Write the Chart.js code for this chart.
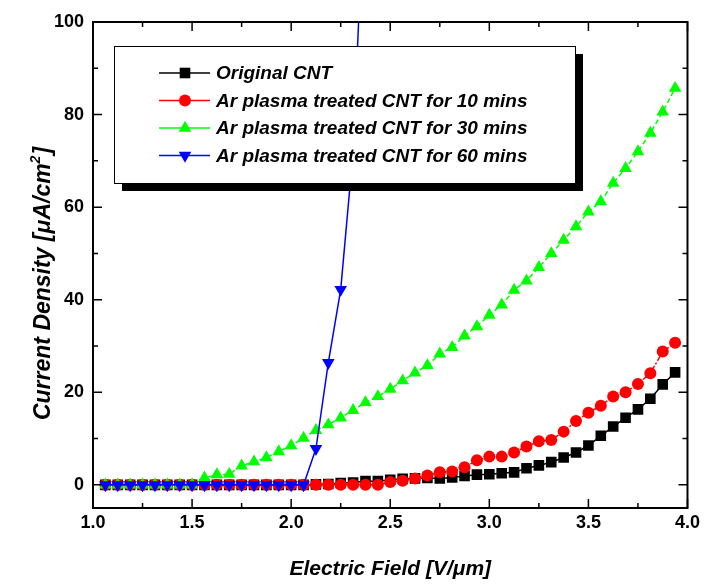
<!DOCTYPE html>
<html>
<head>
<meta charset="utf-8">
<title>Current density vs electric field</title>
<script src="https://cdn.jsdelivr.net/npm/chart.js@4.4.0/dist/chart.umd.min.js"></script>
<style>
  body { margin: 0; background: #fff; }
  #wrap { width: 704px; height: 585px; }
</style>
</head>
<body>
<div id="wrap"><canvas id="feChart" width="704" height="585"></canvas></div>
<script>
// electric field steps (V/um)
var fieldValues = [1.0625, 1.125, 1.1875, 1.25, 1.3125, 1.375, 1.4375, 1.5, 1.5625, 1.625,
    1.6875, 1.75, 1.8125, 1.875, 1.9375, 2.0, 2.0625, 2.125, 2.1875, 2.25,
    2.3125, 2.375, 2.4375, 2.5, 2.5625, 2.625, 2.6875, 2.75, 2.8125, 2.875,
    2.9375, 3.0, 3.0625, 3.125, 3.1875, 3.25, 3.3125, 3.375, 3.4375, 3.5,
    3.5625, 3.625, 3.6875, 3.75, 3.8125, 3.875, 3.9375];

// current density (uA/cm2) for each sample
var originalCnt = [0, 0, 0, 0, 0, 0, 0, 0, 0, 0,
    0, 0, 0, 0, 0, 0, 0, 0.1, 0.2, 0.4,
    0.5, 0.8, 0.8, 1.1, 1.3, 1.4, 1.5, 1.4, 1.6, 1.9,
    2.2, 2.3, 2.5, 2.7, 3.6, 4.2, 4.9, 5.9, 7.0, 8.5,
    10.6, 12.6, 14.5, 16.3, 18.6, 21.7, 24.3];
var treated10 = [0, 0, 0, 0, 0, 0, 0, 0, 0, 0,
    0, 0, 0, 0, 0, 0, 0, 0, 0, 0,
    0, 0, 0, 0.6, 0.9, 1.4, 2.0, 2.7, 2.9, 3.8,
    5.3, 6.1, 6.1, 7.0, 8.3, 9.4, 9.7, 11.5, 13.8, 15.6,
    17.1, 19.1, 20.0, 21.8, 24.1, 28.8, 30.7];
var treated30 = [0, 0, 0, 0, 0, 0, 0, 0, 1.5, 2.2,
    2.3, 4.1, 5.0, 5.9, 7.2, 8.5, 10.1, 11.8, 13.0, 14.5,
    16.1, 17.8, 19.1, 20.7, 22.5, 24.2, 25.8, 28.3, 29.7, 32.2,
    34.2, 36.7, 38.9, 42.1, 44.1, 47.0, 50.0, 52.9, 55.8, 59.0,
    61.2, 65.2, 68.4, 72.0, 76.0, 80.6, 85.7];
var treated60 = [0, 0, 0, 0, 0, 0, 0, 0, 0, 0,
    0, 0, 0, 0, 0, 0, 0, 7.8, 26.4, 42.2,
    72, 135];

var seriesNames = ['Original CNT', 'Ar plasma treated CNT for 10 mins',
    'Ar plasma treated CNT for 30 mins', 'Ar plasma treated CNT for 60 mins'];

var xTickValues = [1.0, 1.5, 2.0, 2.5, 3.0, 3.5, 4.0];
var xMinorTicks = [1.25, 1.75, 2.25, 2.75, 3.25, 3.75];
var yTickValues = [0, 20, 40, 60, 80, 100];
var yMinorTicks = [10, 30, 50, 70, 90];

function toPoints(values) {
    return values.map(function (v, i) {
        return { x: fieldValues[i], y: v };
    });
}

// marker look shared by the plot and the hand drawn legend
var styles = [
    { color: '#000000', point: 'rect', radius: 7.5, rotation: 0, dash: [] },
    { color: '#ff0000', point: 'circle', radius: 6, rotation: 0, dash: [6, 2, 2, 2] },
    { color: '#00ff00', point: 'triangle', radius: 7.3, rotation: 0, dash: [5, 3] },
    { color: '#0000ff', point: 'triangle', radius: 7.3, rotation: 180, dash: [] }
];
var allValues = [originalCnt, treated10, treated30, treated60];

var datasets = allValues.map(function (vals, i) {
    var s = styles[i];
    return {
        label: seriesNames[i],
        data: toPoints(vals),
        borderColor: s.color,
        backgroundColor: s.color,
        borderWidth: 1.5,
        borderDash: s.dash,
        pointStyle: s.point,
        pointRadius: s.radius,
        pointRotation: s.rotation,
        pointBorderWidth: 0,
        pointBackgroundColor: s.color,
        pointBorderColor: s.color,
        tension: 0,
        order: 3 - i
    };
});

function drawMarker(ctx, s, x, y) {
    var r = s.radius;
    ctx.beginPath();
    if (s.point === 'rect') {
        var h = r * Math.SQRT1_2;
        ctx.rect(x - h, y - h, 2 * h, 2 * h);
    } else if (s.point === 'circle') {
        ctx.arc(x, y, r, 0, Math.PI * 2);
    } else {
        var rad = s.rotation * Math.PI / 180;
        for (var k = 0; k < 3; k++) {
            var a = rad + k * 2 * Math.PI / 3;
            var px = x + Math.sin(a) * r, py = y - Math.cos(a) * r;
            if (k === 0) ctx.moveTo(px, py); else ctx.lineTo(px, py);
        }
        ctx.closePath();
    }
    ctx.fillStyle = s.color;
    ctx.fill();
}

// box, inward ticks, legend and axis titles
var decorPlugin = {
    id: 'decor',
    afterDatasetsDraw: function (chart) {
        var ctx = chart.ctx;
        var a = chart.chartArea;
        var xs = chart.scales.x, ys = chart.scales.y;
        ctx.save();
        ctx.strokeStyle = '#000';
        ctx.lineWidth = 2;
        ctx.strokeRect(a.left, a.top, a.right - a.left, a.bottom - a.top);

        ctx.lineWidth = 1.5;
        ctx.beginPath();
        function xTick(v, len) {
            var px = xs.getPixelForValue(v);
            ctx.moveTo(px, a.bottom); ctx.lineTo(px, a.bottom - len);
            ctx.moveTo(px, a.top); ctx.lineTo(px, a.top + len);
        }
        function yTick(v, len) {
            var py = ys.getPixelForValue(v);
            ctx.moveTo(a.left, py); ctx.lineTo(a.left + len, py);
            ctx.moveTo(a.right, py); ctx.lineTo(a.right - len, py);
        }
        xTickValues.forEach(function (v) { xTick(v, 9); });
        xMinorTicks.forEach(function (v) { xTick(v, 5); });
        yTickValues.forEach(function (v) { yTick(v, 9); });
        yMinorTicks.forEach(function (v) { yTick(v, 5); });
        ctx.stroke();

        // legend with drop shadow
        ctx.fillStyle = '#000';
        ctx.fillRect(122, 54, 461, 137);
        ctx.fillStyle = '#fff';
        ctx.fillRect(114, 46, 461, 137);
        ctx.lineWidth = 1;
        ctx.strokeStyle = '#000';
        ctx.strokeRect(114.5, 46.5, 461, 137);

        var rows = [73, 100.5, 128, 155.5];
        ctx.font = 'italic bold 19px "Liberation Sans", Arial, sans-serif';
        ctx.textBaseline = 'middle';
        ctx.textAlign = 'left';
        seriesNames.forEach(function (name, i) {
            var s = styles[i];
            ctx.strokeStyle = s.color;
            ctx.lineWidth = 1.5;
            ctx.beginPath();
            ctx.moveTo(159, rows[i]); ctx.lineTo(210, rows[i]);
            ctx.stroke();
            drawMarker(ctx, s, 185, rows[i]);
            ctx.fillStyle = '#000';
            ctx.fillText(name, 216, rows[i] + 1);
        });

        // x title
        ctx.fillStyle = '#000';
        ctx.textBaseline = 'alphabetic';
        ctx.textAlign = 'center';
        ctx.font = 'italic bold 21px "Liberation Sans", Arial, sans-serif';
        ctx.fillText('Electric Field [V/\u03bcm]', (a.left + a.right) / 2, 575);

        // y title with superscript
        ctx.translate(50, 284);
        ctx.rotate(-Math.PI / 2);
        ctx.textAlign = 'left';
        var mainFont = 'italic bold 23px "Liberation Sans", Arial, sans-serif';
        var supFont = 'italic bold 14px "Liberation Sans", Arial, sans-serif';
        var p1 = 'Current Density [\u03bcA/cm', p2 = '2', p3 = ']';
        ctx.font = mainFont;
        var w1 = ctx.measureText(p1).width, w3 = ctx.measureText(p3).width;
        ctx.font = supFont;
        var w2 = ctx.measureText(p2).width;
        var x0 = -(w1 + w2 + w3) / 2;
        ctx.font = mainFont;
        ctx.fillText(p1, x0, 0);
        ctx.font = supFont;
        ctx.fillText(p2, x0 + w1, -10);
        ctx.font = mainFont;
        ctx.fillText(p3, x0 + w1 + w2 + 1, 0);
        ctx.restore();
    }
};

var tickFont = { family: '"Liberation Sans", Arial, sans-serif', size: 18, weight: 'bold' };

var ctx = document.getElementById('feChart').getContext('2d');
var feChart = new Chart(ctx, {
    type: 'line',
    data: { datasets: datasets },
    options: {
        responsive: false,
        animation: false,
        devicePixelRatio: 1,
        layout: { padding: { top: 22, right: 16, bottom: 0, left: 0 } },
        plugins: {
            legend: { display: false },
            tooltip: { enabled: false }
        },
        scales: {
            x: {
                type: 'linear',
                min: 1.0,
                max: 4.0,
                grid: { display: false, drawTicks: false },
                border: { display: false },
                afterBuildTicks: function (s) {
                    s.ticks = xTickValues.map(function (v) { return { value: v }; });
                },
                afterFit: function (s) { s.height = 77; },
                ticks: {
                    color: '#000',
                    font: tickFont,
                    padding: 4,
                    maxRotation: 0,
                    autoSkip: false,
                    callback: function (v) { return Number(v).toFixed(1); }
                }
            },
            y: {
                type: 'linear',
                min: -5,
                max: 100,
                grid: { display: false, drawTicks: false },
                border: { display: false },
                afterBuildTicks: function (s) {
                    s.ticks = yTickValues.map(function (v) { return { value: v }; });
                },
                afterFit: function (s) { s.width = 93; },
                ticks: {
                    color: '#000',
                    font: tickFont,
                    padding: 9,
                    autoSkip: false
                }
            }
        }
    },
    plugins: [decorPlugin]
});
</script>
</body>
</html>
